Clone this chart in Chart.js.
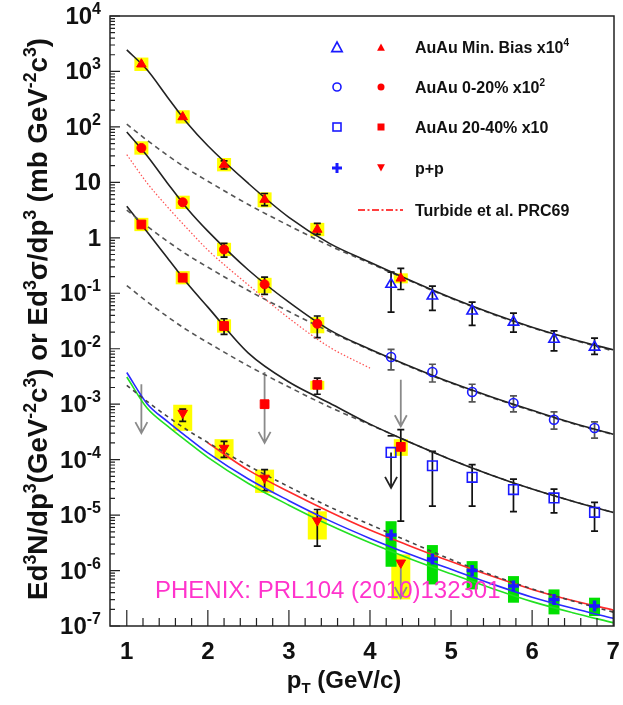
<!DOCTYPE html>
<html>
<head>
<meta charset="utf-8">
<script src="https://cdn.jsdelivr.net/npm/chart.js@4/dist/chart.umd.min.js"></script>
<style>
  html, body { margin: 0; padding: 0; background: #fff; }
</style>
</head>
<body>
<canvas id="chart" width="623" height="705"></canvas>
<script>
// ---- curves ----
const curveX = [1.0, 1.25, 1.5, 1.75, 2.0, 2.5, 3.0, 3.5, 4.0, 4.5, 5.0, 5.5, 6.0, 6.5, 7.0];
const fitMinBias  = [2450, 1070, 347, 115, 45.7, 9.55, 2.34, 0.794, 0.363, 0.170, 0.0832, 0.0437, 0.0245, 0.0148, 0.00955];
const baseMinBias = [112, 57.5, 30.9, 17.4, 10.5, 3.98, 1.66, 0.724, 0.347, 0.166, 0.0813, 0.0427, 0.0240, 0.0145, 0.00912];
const fitCent0020  = [81.3, 30.2, 9.77, 3.31, 1.32, 0.263, 0.0692, 0.0219, 0.00977, 0.00479, 0.00245, 0.00135, 7.76e-4, 4.57e-4, 2.88e-4];
const baseCent0020 = [3.16, 1.62, 0.871, 0.490, 0.295, 0.112, 0.0468, 0.0204, 0.00955, 0.00468, 0.00240, 0.00132, 7.59e-4, 4.47e-4, 2.82e-4];
const fitCent2040  = [3.72, 1.29, 0.437, 0.148, 0.0562, 0.00832, 0.00251, 0.00105, 4.37e-4, 2.04e-4, 1.0e-4, 5.25e-5, 2.95e-5, 1.78e-5, 1.12e-5];
const baseCent2040 = [0.138, 0.0708, 0.0380, 0.0214, 0.0129, 0.00490, 0.00204, 8.91e-4, 4.27e-4, 2.04e-4, 1.0e-4, 5.25e-5, 2.95e-5, 1.78e-5, 1.12e-5];
const basePP   = [2.19e-3, 1.12e-3, 6.03e-4, 3.39e-4, 2.04e-4, 7.76e-5, 3.24e-5, 1.41e-5, 6.76e-6, 3.24e-6, 1.58e-6, 8.32e-7, 4.68e-7, 2.82e-7, 1.78e-7];
const nloBlue  = [3.72e-3, 1.02e-3, 4.90e-4, 2.51e-4, 1.32e-4, 4.47e-5, 1.82e-5, 7.94e-6, 3.80e-6, 1.95e-6, 1.05e-6, 5.75e-7, 3.31e-7, 2.09e-7, 1.38e-7];
const nloGreen = [3.09e-3, 8.51e-4, 4.07e-4, 2.09e-4, 1.10e-4, 3.72e-5, 1.51e-5, 6.61e-6, 3.16e-6, 1.62e-6, 8.71e-7, 4.79e-7, 2.75e-7, 1.74e-7, 1.15e-7];
const nloRedX  = [2.0, 2.5, 3.0, 3.5, 4.0, 4.5, 5.0, 5.5, 6.0, 6.5, 7.0];
const nloRed   = [2.0e-4, 6.46e-5, 2.63e-5, 1.15e-5, 5.37e-6, 2.75e-6, 1.45e-6, 7.94e-7, 4.57e-7, 2.88e-7, 1.95e-7];
const turbideX = [1.0, 1.25, 1.5, 1.75, 2.0, 2.5, 3.0, 3.5, 4.0];
const turbide  = [31.6, 9.77, 3.63, 1.45, 0.603, 0.141, 0.0355, 0.0107, 0.00447];

// ---- data points ----
const lowX  = [1.18, 1.69, 2.2, 2.7, 3.35, 4.38];
const highX = [4.26, 4.77, 5.26, 5.77, 6.27, 6.77];

const mbRed      = [1350, 151, 20.9, 4.9, 1.41, 0.186];
const mbRedLo    = [null, null, 17.4, 3.8, 1.15, 0.117];
const mbRedHi    = [null, null, 24.5, 6.3, 1.82, 0.282];
const mbRedSysLo = [1020, 115, 15.8, 3.55, 1.07, 0.151];
const mbRedSysHi = [1780, 200, 27.5, 6.6, 1.86, 0.229];
const mbBlue   = [0.145, 0.0891, 0.0479, 0.0302, 0.0148, 0.0107];
const mbBlueLo = [0.0457, 0.049, 0.0263, 0.020, 0.00912, 0.00794];
const mbBlueHi = [0.24, 0.135, 0.0692, 0.0437, 0.0209, 0.0155];

const c0020X        = [1.18, 1.69, 2.2, 2.7, 3.35];
const c0020Red      = [41.7, 4.37, 0.617, 0.145, 0.0282];
const c0020RedLo    = [null, null, 0.447, 0.0955, 0.0158];
const c0020RedHi    = [null, null, 0.794, 0.195, 0.0389];
const c0020RedSysLo = [31.6, 3.31, 0.468, 0.100, 0.019];
const c0020RedSysHi = [55.0, 5.75, 0.813, 0.190, 0.0372];
const c0020Blue   = [0.00708, 0.0038, 0.00166, 0.00105, 5.25e-4, 3.72e-4];
const c0020BlueLo = [0.00417, 0.00251, 0.0011, 7.24e-4, 3.55e-4, 2.45e-4];
const c0020BlueHi = [0.00977, 0.00525, 0.00229, 0.00141, 7.24e-4, 4.79e-4];

const c2040X        = [1.18, 1.69, 2.2, 3.35, 4.38];
const c2040Red      = [1.74, 0.191, 0.0257, 0.00224, 1.70e-4];
const c2040RedLo    = [null, null, 0.0182, 0.00151, 7.76e-6];
const c2040RedHi    = [null, null, 0.0347, 0.00295, 3.47e-4];
const c2040RedSysLo = [1.32, 0.145, 0.0195, 0.00182, 1.17e-4];
const c2040RedSysHi = [2.29, 0.251, 0.0339, 0.00263, 2.34e-4];
const c2040LimitX = [2.7];
const c2040Limit  = [0.001];
const c2040Blue   = [1.35e-4, 7.76e-5, 4.79e-5, 2.88e-5, 2.04e-5, 1.12e-5];
const c2040BlueLo = [null, 1.45e-5, 1.45e-5, 1.15e-5, 1.10e-5, 5.13e-6];
const c2040BlueHi = [2.69e-4, 1.41e-4, 8.13e-5, 4.47e-5, 2.95e-5, 1.70e-5];

const ppRedX     = [1.69, 2.2, 2.7, 3.35, 4.38];
const ppRed      = [6.92e-4, 1.62e-4, 4.68e-5, 7.94e-6, 1.38e-6];
const ppRedLo    = [4.9e-4, 1.10e-4, 2.75e-5, 2.75e-6, null];
const ppRedHi    = [8.13e-4, 2.14e-4, 6.61e-5, 1.26e-5, null];
const ppRedSysLo = [3.31e-4, 1.0e-4, 2.51e-5, 3.63e-6, 3.02e-7];
const ppRedSysHi = [9.77e-4, 2.34e-4, 6.61e-5, 1.17e-5, 1.95e-6];
const ppBlue      = [4.37e-6, 1.62e-6, 1.0e-6, 5.25e-7, 3.02e-7, 2.29e-7];
const ppBlueSysLo = [1.17e-6, 5.62e-7, 4.57e-7, 2.63e-7, 1.62e-7, 1.51e-7];
const ppBlueSysHi = [7.76e-6, 2.88e-6, 1.48e-6, 7.94e-7, 4.57e-7, 3.24e-7];

// upper limits / off-scale errors drawn as arrows: x, from, to
const arrowX    = [1.18, 2.7, 4.38, 4.38, 4.26];
const arrowFrom = [2.29e-3, 3.8e-3, 2.75e-3, 1.38e-6, 1.35e-4];
const arrowTo   = [3.0e-4, 2.0e-4, 4.0e-4, 3.2e-7, 3.09e-5];
const arrowDark = [false, false, false, false, true];

const yDecades = [-7, -6, -5, -4, -3, -2, -1, 0, 1, 2, 3, 4];
const xTicks = [1, 2, 3, 4, 5, 6, 7];

const legendRows = [
  ['AuAu Min. Bias x10', '4'],
  ['AuAu 0-20% x10', '2'],
  ['AuAu 20-40% x10', ''],
  ['p+p', ''],
  ['Turbide et al. PRC69', '']
];

const FONT = '"Liberation Sans", Arial, Helvetica, sans-serif';
const RED = '#ff0000', BLUE = '#1a1aff';

const pts = (xs, ys) => xs.map((x, i) => ({ x: x, y: ys[i] }));

function curve(xs, ys, color, width, dash) {
  return {
    data: pts(xs, ys), borderColor: color, borderWidth: width, borderDash: dash || [],
    pointRadius: 0, fill: false, cubicInterpolationMode: 'monotone'
  };
}
function markers(xs, ys, style, color, radius, filled, rotation) {
  return {
    data: pts(xs, ys), showLine: false, pointStyle: style, pointRadius: radius,
    pointRotation: rotation || 0, pointBorderColor: color, pointBorderWidth: filled ? 1 : 1.6,
    pointBackgroundColor: filled ? color : 'rgba(0,0,0,0)'
  };
}

// error bars and boxes
const errSets = [
  { x: lowX, lo: mbRedLo, hi: mbRedHi },
  { x: highX, lo: mbBlueLo, hi: mbBlueHi },
  { x: c0020X, lo: c0020RedLo, hi: c0020RedHi },
  { x: highX, lo: c0020BlueLo, hi: c0020BlueHi, color: '#555' },
  { x: c2040X, lo: c2040RedLo, hi: c2040RedHi },
  { x: highX, lo: c2040BlueLo, hi: c2040BlueHi },
  { x: ppRedX, lo: ppRedLo, hi: ppRedHi }
];
const boxSets = [
  { x: lowX, lo: mbRedSysLo, hi: mbRedSysHi, w: 14, color: '#ffff00' },
  { x: c0020X, lo: c0020RedSysLo, hi: c0020RedSysHi, w: 14, color: '#ffff00' },
  { x: c2040X, lo: c2040RedSysLo, hi: c2040RedSysHi, w: 14, color: '#ffff00' },
  { x: ppRedX, lo: ppRedSysLo, hi: ppRedSysHi, w: 19, color: '#ffff00' },
  { x: highX, lo: ppBlueSysLo, hi: ppBlueSysHi, w: 11, color: '#00e000' }
];

function rich(ctx, x, y, parts, align) {
  let w = 0;
  parts.forEach(p => { ctx.font = (p[3] || 'bold') + ' ' + p[1] + 'px ' + FONT; w += ctx.measureText(p[0]).width; });
  let cx = align === 'right' ? x - w : align === 'center' ? x - w / 2 : x;
  ctx.textAlign = 'left';
  ctx.textBaseline = 'alphabetic';
  parts.forEach(p => {
    ctx.font = (p[3] || 'bold') + ' ' + p[1] + 'px ' + FONT;
    ctx.fillText(p[0], cx, y + (p[2] || 0));
    cx += ctx.measureText(p[0]).width;
  });
  return w;
}
function richWidth(ctx, parts) {
  let w = 0;
  parts.forEach(p => { ctx.font = (p[3] || 'bold') + ' ' + p[1] + 'px ' + FONT; w += ctx.measureText(p[0]).width; });
  return w;
}

function tri(ctx, x, y, r, down, fill, color) {
  const s = down ? -1 : 1;
  ctx.beginPath();
  ctx.moveTo(x, y - s * r);
  ctx.lineTo(x + r * 0.87, y + s * r * 0.6);
  ctx.lineTo(x - r * 0.87, y + s * r * 0.6);
  ctx.closePath();
  if (fill) { ctx.fillStyle = color; ctx.fill(); } else { ctx.strokeStyle = color; ctx.lineWidth = 1.6; ctx.stroke(); }
}

const decor = {
  id: 'decor',
  beforeDatasetsDraw(chart) {
    const ctx = chart.ctx, a = chart.chartArea;
    const sx = chart.scales.x, sy = chart.scales.y;
    ctx.save();
    ctx.beginPath(); ctx.rect(a.left, a.top, a.right - a.left, a.bottom - a.top); ctx.clip();
    boxSets.forEach(b => {
      ctx.fillStyle = b.color;
      b.x.forEach((x, i) => {
        const X = sx.getPixelForValue(x), t = sy.getPixelForValue(b.hi[i]), d = sy.getPixelForValue(b.lo[i]);
        ctx.fillRect(X - b.w / 2, t, b.w, d - t);
      });
    });
    // arrows
    arrowX.forEach((x, i) => {
      const X = sx.getPixelForValue(x), t = sy.getPixelForValue(arrowFrom[i]), d = sy.getPixelForValue(arrowTo[i]);
      ctx.strokeStyle = arrowDark[i] ? '#222' : '#8a8a8a';
      ctx.lineWidth = 1.8;
      ctx.beginPath();
      ctx.moveTo(X, t); ctx.lineTo(X, d);
      ctx.moveTo(X - 6, d - 11); ctx.lineTo(X, d); ctx.lineTo(X + 6, d - 11);
      ctx.stroke();
    });
    errSets.forEach(e => {
      ctx.strokeStyle = e.color || '#111';
      ctx.lineWidth = 1.7;
      e.x.forEach((x, i) => {
        const X = sx.getPixelForValue(x);
        const t = e.hi[i] != null ? sy.getPixelForValue(e.hi[i]) : null;
        const d = e.lo[i] != null ? sy.getPixelForValue(e.lo[i]) : null;
        if (t == null && d == null) return;
        ctx.beginPath();
        ctx.moveTo(X, t != null ? t : d);
        ctx.lineTo(X, d != null ? d : t);
        if (t != null) { ctx.moveTo(X - 3.5, t); ctx.lineTo(X + 3.5, t); }
        if (d != null) { ctx.moveTo(X - 3.5, d); ctx.lineTo(X + 3.5, d); }
        ctx.stroke();
      });
    });
    ctx.restore();
  },
  afterDraw(chart) {
    const ctx = chart.ctx, a = chart.chartArea;
    const sx = chart.scales.x, sy = chart.scales.y;
    ctx.save();
    ctx.fillStyle = '#111';
    ctx.strokeStyle = '#222';
    // frame
    ctx.lineWidth = 1.5;
    ctx.strokeRect(a.left, a.top, a.right - a.left, a.bottom - a.top);
    // y ticks
    ctx.lineWidth = 1.2;
    ctx.beginPath();
    yDecades.forEach(e => {
      const Y = sy.getPixelForValue(Math.pow(10, e));
      ctx.moveTo(a.left, Y); ctx.lineTo(a.left + 10, Y);
      if (e < 4) {
        for (let m = 2; m <= 9; m++) {
          const Ym = sy.getPixelForValue(m * Math.pow(10, e));
          ctx.moveTo(a.left, Ym); ctx.lineTo(a.left + 5, Ym);
        }
      }
    });
    // x ticks
    for (let v = 1; v <= 7.001; v += 0.2) {
      const X = sx.getPixelForValue(v);
      const major = Math.abs(v - Math.round(v)) < 1e-6;
      ctx.moveTo(X, a.bottom); ctx.lineTo(X, a.bottom - (major ? 16 : 8));
    }
    ctx.stroke();
    // tick labels
    yDecades.forEach(e => {
      const Y = sy.getPixelForValue(Math.pow(10, e));
      let parts;
      if (e === 0) parts = [['1', 24, 0]];
      else if (e === 1) parts = [['10', 24, 0]];
      else parts = [['10', 24, 0], [String(e), 16, -10]];
      rich(ctx, 101, Y + 8, parts, 'right');
    });
    xTicks.forEach(v => {
      rich(ctx, sx.getPixelForValue(v), 659, [[String(v), 24, 0]], 'center');
    });
    // axis titles
    rich(ctx, 344, 688, [['p', 24, 0], ['T', 15, 5], [' (GeV/c)', 24, 0]], 'center');
    const mk = (b, s, up) => [['Ed', b, 0], ['3', s, up], ['N/dp', b, 0], ['3', s, up], ['(GeV', b, 0], ['-2', s, up],
      ['c', b, 0], ['3', s, up], [') or Ed', b, 0], ['3', s, up], ['\u03c3/dp', b, 0], ['3', s, up],
      [' (mb GeV', b, 0], ['-2', s, up], ['c', b, 0], ['3', s, up], [')', b, 0]];
    const w0 = richWidth(ctx, mk(22, 14, -9));
    const k = 562 / w0;
    const yParts = mk(22 * k, 14 * k, -9 * k);
    ctx.save();
    ctx.translate(37, 319);
    ctx.rotate(-Math.PI / 2);
    rich(ctx, 0, 8 * k, yParts, 'center');
    ctx.restore();
    // legend
    const rowY = [47, 87, 127, 168, 210];
    tri(ctx, 337, rowY[0] + 1, 6, false, false, BLUE);
    tri(ctx, 381, rowY[0] + 1, 4.5, false, true, RED);
    ctx.strokeStyle = BLUE; ctx.lineWidth = 1.6;
    ctx.beginPath(); ctx.arc(337, rowY[1], 4, 0, Math.PI * 2); ctx.stroke();
    ctx.fillStyle = RED; ctx.beginPath(); ctx.arc(381, rowY[1], 3.5, 0, Math.PI * 2); ctx.fill();
    ctx.strokeRect(333, rowY[2] - 4, 8, 8);
    ctx.fillRect(377.5, rowY[2] - 3.5, 7, 7);
    ctx.lineWidth = 3; ctx.beginPath();
    ctx.moveTo(332, rowY[3]); ctx.lineTo(342, rowY[3]); ctx.moveTo(337, rowY[3] - 5); ctx.lineTo(337, rowY[3] + 5); ctx.stroke();
    tri(ctx, 381, rowY[3] - 1, 4.5, true, true, RED);
    ctx.strokeStyle = RED; ctx.lineWidth = 1.6; ctx.setLineDash([7, 2.5, 2, 2.5]);
    ctx.beginPath(); ctx.moveTo(358, rowY[4]); ctx.lineTo(403, rowY[4]); ctx.stroke();
    ctx.setLineDash([]);
    ctx.fillStyle = '#111';
    legendRows.forEach((r, i) => {
      const parts = [[r[0], 16, 0]];
      if (r[1]) parts.push([r[1], 10, -7]);
      rich(ctx, 415, rowY[i] + 6, parts, 'left');
    });
    // publication note
    ctx.fillStyle = '#ff33cc';
    rich(ctx, 155, 598, [['PHENIX: PRL104 (2010)132301', 24, 0, 'normal']], 'left');
    ctx.restore();
  }
};

new Chart(document.getElementById('chart'), {
  type: 'line',
  data: {
    datasets: [
      markers(lowX, mbRed, 'triangle', RED, 5.5, true),
      markers(highX, mbBlue, 'triangle', BLUE, 6, false),
      markers(c0020X, c0020Red, 'circle', RED, 4.5, true),
      markers(highX, c0020Blue, 'circle', BLUE, 4.5, false),
      markers(c2040X, c2040Red, 'rect', RED, 6.2, true),
      markers(c2040LimitX, c2040Limit, 'rect', RED, 6.2, true),
      markers(highX, c2040Blue, 'rect', BLUE, 6.8, false),
      markers(ppRedX, ppRed, 'triangle', RED, 5.5, true, 180),
      Object.assign(markers(highX, ppBlue, 'cross', BLUE, 5.5, false), { pointBorderWidth: 3.5 }),
      curve(curveX, fitMinBias, '#222', 1.6),
      curve(curveX, baseMinBias, '#555', 1.6, [5, 4]),
      curve(curveX, fitCent0020, '#222', 1.6),
      curve(curveX, baseCent0020, '#555', 1.6, [5, 4]),
      curve(curveX, fitCent2040, '#222', 1.6),
      curve(curveX, baseCent2040, '#555', 1.6, [5, 4]),
      curve(curveX, basePP, '#444', 1.6, [4, 4]),
      curve(nloRedX, nloRed, '#ff2a2a', 1.6),
      curve(curveX, nloBlue, '#2a2aff', 1.6),
      curve(curveX, nloGreen, '#22e022', 1.6),
      curve(turbideX, turbide, '#ff5050', 1.2, [1.5, 2])
    ]
  },
  options: {
    responsive: false,
    animation: false,
    devicePixelRatio: 1,
    layout: { padding: { left: 110, top: 16, right: 3, bottom: 79 } },
    plugins: { legend: { display: false }, tooltip: { enabled: false } },
    scales: {
      x: { type: 'linear', min: 0.793, max: 7.01, display: false },
      y: { type: 'logarithmic', min: 1e-7, max: 1e4, display: false }
    }
  },
  plugins: [decor]
});
</script>
</body>
</html>
